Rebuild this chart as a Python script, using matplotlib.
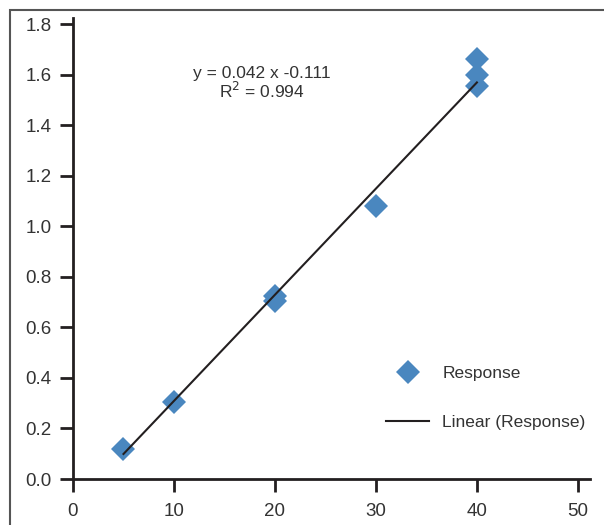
import matplotlib
matplotlib.use("Agg")
import matplotlib.pyplot as plt
from matplotlib.lines import Line2D
from matplotlib.patches import Rectangle

plt.rcParams['font.family'] = ['Liberation Sans', 'DejaVu Sans']

# Messwerte
conc = [5, 10, 20, 20, 30, 40, 40, 40]
response = [0.12, 0.305, 0.725, 0.705, 1.08, 1.66, 1.60, 1.555]

# lineare Regression (wie im Original angegeben)
slope = 0.042
intercept = -0.111
r2 = 0.994

xticks = [0, 10, 20, 30, 40, 50]
yticks = [0.0, 0.2, 0.4, 0.6, 0.8, 1.0, 1.2, 1.4, 1.6, 1.8]

blue = '#4a87bf'
dark = '#231f20'
txt = '#333333'

fig = plt.figure(figsize=(6.04, 5.25), dpi=100)
ax = fig.add_axes([73/604, 46/525, 517/604, 461/525])

ax.plot(conc, response, linestyle='none', marker='D', markersize=12.5,
        color=blue, markeredgewidth=0, zorder=2)

x_fit = [min(conc), max(conc)]
y_fit = [slope * x + intercept for x in x_fit]
ax.plot(x_fit, y_fit, color=dark, linewidth=1.5, zorder=3)

ax.set_xlim(0, 51.2)
ax.set_ylim(0, 1.824)
ax.set_xticks(xticks)
ax.set_yticks(yticks)
ax.set_xticklabels([str(t) for t in xticks])
ax.set_yticklabels(['%.1f' % t for t in yticks])

for side in ['top', 'right']:
    ax.spines[side].set_visible(False)
for side in ['left', 'bottom']:
    ax.spines[side].set_linewidth(2)
    ax.spines[side].set_color(dark)
ax.tick_params(axis='both', direction='out', length=9.5, width=2, color=dark,
               labelsize=13.5, labelcolor=txt, pad=6)
ax.tick_params(axis='x', pad=8)

ax.text(0.365, 0.857, 'y = 0.042 x -0.111\nR$^2$ = 0.994', transform=ax.transAxes,
        ha='center', va='center', fontsize=12.5, color=txt, linespacing=1.0)

handles = [
    Line2D([], [], linestyle='none', marker='D', markersize=12.5, color=blue,
           markeredgewidth=0, label='Response'),
    Line2D([], [], color=dark, linewidth=1.5, label='Linear (Response)'),
]
ax.legend(handles=handles, loc='lower left', bbox_to_anchor=(0.575, 0.072),
          frameon=False, fontsize=12.5, labelspacing=1.95, handlelength=2.5,
          handletextpad=0.75, labelcolor=txt, borderpad=0.4)

# Rahmen um die Grafik
fig.patches.append(Rectangle((10/604, -0.1), 1.2, 1.1 - 10/525,
                             transform=fig.transFigure, fill=False,
                             edgecolor='#555555', linewidth=1.5))

fig.savefig('out.png', dpi=100)
